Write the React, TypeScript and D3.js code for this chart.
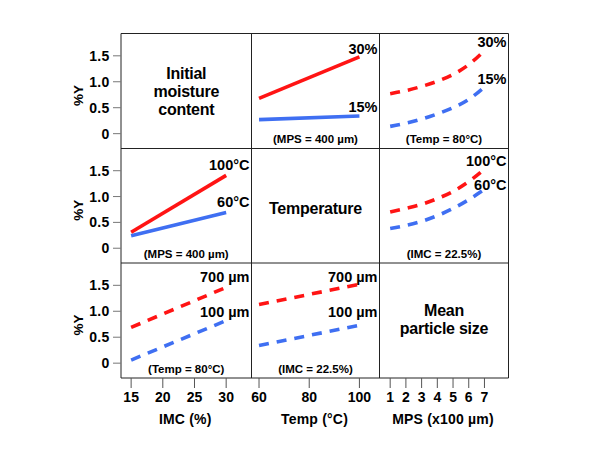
import React from "react";
import * as d3 from "d3";

// Axis values
const imcTicks = [15, 20, 25, 30];
const tempTicks = [60, 80, 100];
const mpsTicks = [1, 2, 3, 4, 5, 6, 7];
const yTicks = [0, 0.5, 1.0, 1.5];
const yTickLabels = ["0", "0.5", "1.0", "1.5"];
const axisTitles = ["IMC (%)", "Temp (°C)", "MPS (x100 µm)"];

// Row 1: Temp effect at IMC levels (MPS = 400 µm)
const tempX = [60, 100];
const tempIMC30 = [0.68, 1.48];
const tempIMC15 = [0.27, 0.34];
// Row 1: MPS effect at IMC levels (Temp = 80°C)
const mpsX = [1, 2, 3, 4, 5, 6, 7];
const mpsIMC30 = [0.77, 0.83, 0.91, 1.01, 1.14, 1.33, 1.6];
const mpsIMC15 = [0.14, 0.2, 0.28, 0.38, 0.5, 0.66, 0.9];
// Row 2: IMC effect at temps (MPS = 400 µm)
const imcX = [15, 30];
const imcT100 = [0.31, 1.41];
const imcT60 = [0.24, 0.69];
// Row 2: MPS effect at temps (IMC = 22.5%)
const mpsT100 = [0.7, 0.77, 0.85, 0.96, 1.1, 1.29, 1.53];
const mpsT60 = [0.38, 0.44, 0.52, 0.63, 0.77, 0.94, 1.14];
// Row 3: IMC effect at MPS (Temp = 80°C)
const imcM700 = [0.69, 1.46];
const imcM100 = [0.06, 0.82];
// Row 3: Temp effect at MPS (IMC = 22.5%)
const tempM700 = [1.13, 1.52];
const tempM100 = [0.34, 0.73];

const RED = "#ff1414";
const BLUE = "#3f6ff2";
const FONT = "'Liberation Sans', Arial, sans-serif";

const left = 121;
const colEdges = [121, 251.5, 379.5, 508.5];
const rowEdges = [33.5, 148.5, 263, 378];
const xDomains: [number, number][] = [
  [13.4, 34],
  [57, 108],
  [0.32, 8.53],
];
const xTicksAll = [imcTicks, tempTicks, mpsTicks];

type Panel = {
  row: number;
  col: number;
  xs: number[];
  hi: number[];
  lo: number[];
  hiLabel: string;
  loLabel: string;
  dashed: boolean;
  note: string;
  hiLabelY: number;
  loLabelY: number;
};

const panels: Panel[] = [
  { row: 0, col: 1, xs: tempX, hi: tempIMC30, lo: tempIMC15, hiLabel: "30%", loLabel: "15%", dashed: false, note: "(MPS = 400 µm)", hiLabelY: 54, loLabelY: 111.5 },
  { row: 0, col: 2, xs: mpsX, hi: mpsIMC30, lo: mpsIMC15, hiLabel: "30%", loLabel: "15%", dashed: true, note: "(Temp = 80°C)", hiLabelY: 46.5, loLabelY: 84.3 },
  { row: 1, col: 0, xs: imcX, hi: imcT100, lo: imcT60, hiLabel: "100°C", loLabel: "60°C", dashed: false, note: "(MPS = 400 µm)", hiLabelY: 170, loLabelY: 206.5 },
  { row: 1, col: 2, xs: mpsX, hi: mpsT100, lo: mpsT60, hiLabel: "100°C", loLabel: "60°C", dashed: true, note: "(IMC = 22.5%)", hiLabelY: 165.5, loLabelY: 190 },
  { row: 2, col: 0, xs: imcX, hi: imcM700, lo: imcM100, hiLabel: "700 µm", loLabel: "100 µm", dashed: true, note: "(Temp = 80°C)", hiLabelY: 281.7, loLabelY: 317 },
  { row: 2, col: 1, xs: tempX, hi: tempM700, lo: tempM100, hiLabel: "700 µm", loLabel: "100 µm", dashed: true, note: "(IMC = 22.5%)", hiLabelY: 281.7, loLabelY: 317 },
];

const titles = [
  { row: 0, col: 0, lines: ["Initial", "moisture", "content"], shift: 0 },
  { row: 1, col: 1, lines: ["Temperature"], shift: 2.5 },
  { row: 2, col: 2, lines: ["Mean", "particle size"], shift: -1.5 },
];

function yScale(row: number) {
  return d3.scaleLinear().domain([-0.286, 1.93]).range([rowEdges[row + 1], rowEdges[row]]);
}
function xScale(col: number) {
  return d3.scaleLinear().domain(xDomains[col]).range([colEdges[col], colEdges[col + 1]]);
}

export default function App() {
  return (
    <svg width={599} height={450} style={{ display: "block", position: "absolute", left: 0, top: 0 }} fontFamily={FONT}>
      <rect width={599} height={450} fill="#fff" />
      {/* grid lines */}
      {colEdges.map((x, i) => (
        <line key={"c" + i} x1={x} x2={x} y1={rowEdges[0]} y2={rowEdges[3]} stroke="#222" strokeWidth={1} />
      ))}
      {rowEdges.map((y, i) => (
        <line key={"r" + i} x1={colEdges[0]} x2={colEdges[3]} y1={y} y2={y} stroke="#222" strokeWidth={1} />
      ))}
      {/* y axes */}
      {[0, 1, 2].map((row) => {
        const ys = yScale(row);
        return (
          <g key={"y" + row}>
            {yTicks.map((t, i) => (
              <g key={i}>
                <line x1={left - 8} x2={left} y1={ys(t)} y2={ys(t)} stroke="#777" strokeWidth={1} />
                <text x={left - 11.5} y={ys(t)} dy="0.36em" textAnchor="end" fontSize={14} fontWeight="bold" letterSpacing={0.3}>
                  {yTickLabels[i]}
                </text>
              </g>
            ))}
            <text
              transform={`translate(83,${(rowEdges[row] + rowEdges[row + 1]) / 2 + 4.5}) rotate(-90)`}
              textAnchor="middle"
              fontSize={13.5}
              fontWeight="bold"
            >
              %Y
            </text>
          </g>
        );
      })}
      {/* x axes */}
      {[0, 1, 2].map((col) => {
        const xs = xScale(col);
        return (
          <g key={"x" + col}>
            {xTicksAll[col].map((t) => (
              <g key={t}>
                <line x1={xs(t)} x2={xs(t)} y1={rowEdges[3]} y2={rowEdges[3] + 10} stroke="#555" strokeWidth={1} />
                <text x={xs(t)} y={402} textAnchor="middle" fontSize={14} fontWeight="bold">
                  {t}
                </text>
              </g>
            ))}
            <text x={(colEdges[col] + colEdges[col + 1]) / 2 - 1} y={423.5} textAnchor="middle" fontSize={14} fontWeight="bold" letterSpacing={0.2}>
              {axisTitles[col]}
            </text>
          </g>
        );
      })}
      {/* titles */}
      {titles.map((t, i) => {
        const cx = (colEdges[t.col] + colEdges[t.col + 1]) / 2;
        const cy = (rowEdges[t.row] + rowEdges[t.row + 1]) / 2 + t.shift;
        const lh = 17.8;
        const y0 = cy - ((t.lines.length - 1) * lh) / 2;
        return (
          <text key={i} textAnchor="middle" fontSize={16} fontWeight="bold" letterSpacing={-0.25}>
            {t.lines.map((l, j) => (
              <tspan key={j} x={cx} y={y0 + j * lh} dy="0.36em">
                {l}
              </tspan>
            ))}
          </text>
        );
      })}
      {/* data panels */}
      {panels.map((p, i) => {
        const xs = xScale(p.col);
        const ys = yScale(p.row);
        const line = d3
          .line<number>()
          .x((_, k) => xs(p.xs[k]))
          .y((d) => ys(d))
          .curve(d3.curveMonotoneX);
        const cx = (colEdges[p.col] + colEdges[p.col + 1]) / 2;
        const rx = colEdges[p.col + 1] - 2;
        const dash = p.dashed ? "10 8" : undefined;
        return (
          <g key={i}>
            <path d={line(p.lo) || ""} fill="none" stroke={BLUE} strokeWidth={3.6} strokeDasharray={dash} />
            <path d={line(p.hi) || ""} fill="none" stroke={RED} strokeWidth={3.6} strokeDasharray={dash} />
            <text x={rx} y={p.hiLabelY} textAnchor="end" fontSize={14.5} fontWeight="bold">
              {p.hiLabel}
            </text>
            <text x={rx} y={p.loLabelY} textAnchor="end" fontSize={14.5} fontWeight="bold">
              {p.loLabel}
            </text>
            <text x={cx} y={rowEdges[p.row + 1] - 5.5} textAnchor="middle" fontSize={11.5} fontWeight="bold">
              {p.note}
            </text>
          </g>
        );
      })}
    </svg>
  );
}
